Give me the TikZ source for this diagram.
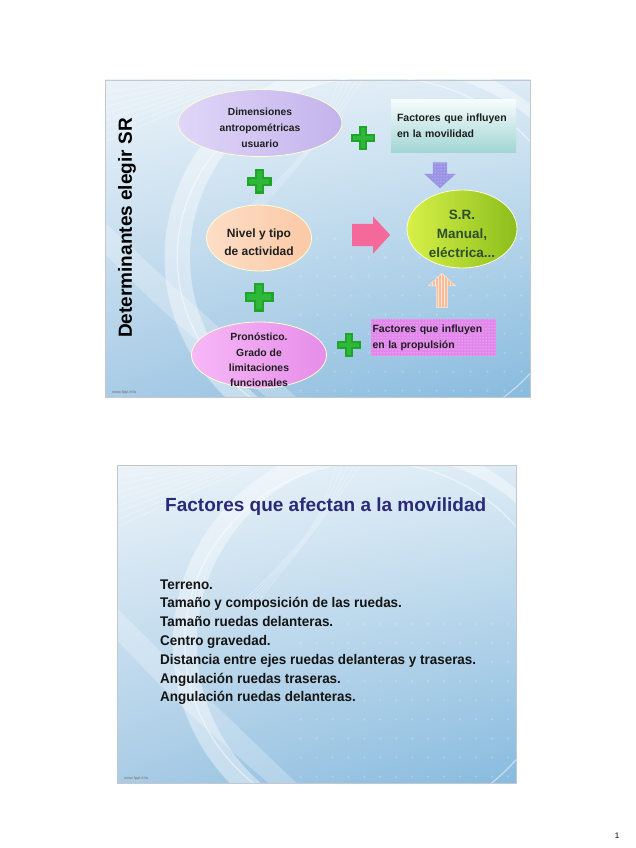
\documentclass[tikz,border=0pt]{standalone}
\usepackage{fontspec}
\setmainfont{Liberation Sans}
\newfontfamily\estrecha[FakeStretch=0.96]{Liberation Sans}
\usepackage{tikz}
\usetikzlibrary{shapes.geometric, shapes.arrows, positioning, patterns, calc, shadings}

\definecolor{fondoA}{HTML}{EBF3F9}
\definecolor{fondoB}{HTML}{DCEBF5}
\definecolor{fondoC}{HTML}{A9CCE6}
\definecolor{fondoD}{HTML}{88BBDE}
\definecolor{bordegris}{HTML}{C4C8CC}
\definecolor{tituloazul}{HTML}{2B2A78}
\definecolor{verdeoscuro}{HTML}{2E4E2A}
\definecolor{verdecruz}{HTML}{1FA52A}
\definecolor{verdeluz}{HTML}{2EB83A}
\definecolor{lavandaA}{HTML}{E0D6F8}
\definecolor{lavandaB}{HTML}{C3B3EC}
\definecolor{melocotonA}{HTML}{FDDEC6}
\definecolor{melocotonB}{HTML}{FBC9A6}
\definecolor{limaA}{HTML}{D8F048}
\definecolor{limaB}{HTML}{8BBE1C}
\definecolor{rosaA}{HTML}{F6B8F6}
\definecolor{rosaB}{HTML}{E68DE9}
\definecolor{tealA}{HTML}{F6FCFC}
\definecolor{tealB}{HTML}{A2D6D4}
\definecolor{magenta}{HTML}{E286EC}
\definecolor{flechrosa}{HTML}{F5699A}
\definecolor{flechlila}{HTML}{9A92E4}
\definecolor{flechnaranja}{HTML}{F8BC98}

\tikzset{
  elipse/.style={ellipse, inner sep=0pt, draw=white!85!yellow, line width=0.8pt},
  texto/.style={align=center, font=\bfseries, text=black!88, inner sep=0pt},
  caja/.style={rectangle, inner sep=0pt, align=left, font=\bfseries\fontsize{10.5}{15.6}\selectfont, text=black!88},
  flecha/.style={single arrow, inner xsep=0pt, single arrow tip angle=95},
  cuerpo/.style={font=\estrecha\bfseries\fontsize{14}{19}\selectfont, text=black!92, inner sep=0pt}
}

% cruz verde: centro x, centro y, tamano
\newcommand{\cruzverde}[3]{
    \fill[verdecruz] (#1-#3/2, #2-0.18*#3) rectangle (#1+#3/2, #2+0.18*#3);
    \fill[verdecruz] (#1-0.18*#3, #2-#3/2) rectangle (#1+0.18*#3, #2+#3/2);
    \fill[verdeluz] (#1-0.4*#3, #2-0.1*#3) rectangle (#1+0.4*#3, #2+0.1*#3);
    \fill[verdeluz] (#1-0.1*#3, #2-0.4*#3) rectangle (#1+0.1*#3, #2+0.4*#3);
}

% fondo de diapositiva: ancho, alto
\newcommand{\fondo}[2]{
    \begin{scope}
        \clip (0,0) rectangle (#1,#2);
        \shade[upper left=fondoA, upper right=fondoB, lower left=fondoC, lower right=fondoD] (0,0) rectangle (#1,#2);
        % barrido claro
        \fill[white, opacity=0.4, even odd rule]
            (0.66*#1,0.56*#2) ellipse [x radius=0.52*#1, y radius=0.64*#2]
            (0.68*#1,0.56*#2) ellipse [x radius=0.48*#1, y radius=0.59*#2];
        \draw[white, opacity=0.5, line width=1.2pt] (0.64*#1,0.56*#2) ellipse [x radius=0.47*#1, y radius=0.57*#2];
        \fill[white, opacity=0.25] (0,0.45*#2) .. controls (0.2*#1,0.7*#2) .. (0.45*#1,#2) -- (0.38*#1,#2) .. controls (0.15*#1,0.75*#2) .. (0,0.55*#2) -- cycle;
        % vetas
        \foreach \k in {0,...,7}
            \draw[white, opacity=0.45, line width=0.5pt] (0,0.04*#2+\k*7) -- (0.22*#1+\k*7,0);
        \foreach \k in {0,...,4}
            \draw[white, opacity=0.4, line width=0.5pt] (0.55*#1+\k*6,0) .. controls (0.5*#1,0.2*#2) .. (0.3*#1+\k*4,0.45*#2);
        % puntos de rejilla
        \foreach \u in {0.46,0.5,...,1.0}
            \foreach \v in {0.5,0.56,...,1.0}
                \fill[white, opacity=0.2] (\u*#1,\v*#2) circle [radius=1.3];
    \end{scope}
    \draw[bordegris, line width=0.6pt] (0,0) rectangle (#1,#2);
}

\begin{document}
\begin{tikzpicture}[x=1pt, y=-1pt]
    \useasboundingbox (0,0) rectangle (636,848);
    \fill[white] (0,0) rectangle (636,848);

    % ==========================================
    % 1. Diapositiva: Determinantes elegir SR
    % ==========================================
    \begin{scope}[shift={(105,80)}]
        \fondo{425}{317}
        \node[anchor=south west, font=\fontsize{4}{4}\selectfont, text=black!55, inner sep=1pt] (web1) at (6,316) {www.fppt.info};
    \end{scope}

    % Titulo vertical
    \node[rotate=90, font=\bfseries\fontsize{19}{19}\selectfont] (titulo1) at (127,228) {Determinantes elegir SR};

    % Elipses
    \node[elipse, left color=lavandaA, right color=lavandaB, minimum width=164pt, minimum height=67pt] (dimensiones) at (260,123) {};
    \node[texto, font=\bfseries\fontsize{10.3}{16}\selectfont] (dimensiones-txt) at ($(dimensiones)+(0,5)$) {Dimensiones\\antropométricas\\usuario};

    \node[elipse, left color=melocotonA, right color=melocotonB, minimum width=105pt, minimum height=66pt] (nivel) at (259,238) {};
    \node[texto, font=\bfseries\fontsize{12}{17.7}\selectfont] (nivel-txt) at ($(nivel)+(0,4)$) {Nivel y tipo\\de actividad};

    \node[elipse, left color=rosaA, right color=rosaB, minimum width=135pt, minimum height=66pt] (pronostico) at (259,355) {};
    \node[texto, font=\bfseries\fontsize{10.4}{15.3}\selectfont] (pronostico-txt) at ($(pronostico)+(0,5)$) {Pronóstico.\\Grado de\\limitaciones\\funcionales};

    \node[elipse, left color=limaA, right color=limaB, minimum width=110pt, minimum height=78pt] (sr) at (462,229) {};
    \node[texto, text=verdeoscuro, font=\bfseries\fontsize{13.5}{19}\selectfont] (sr-txt) at ($(sr)+(0,5)$) {S.R.\\Manual,\\eléctrica...};

    % Cajas de factores
    \node[caja, top color=tealA, bottom color=tealB, minimum width=125pt, minimum height=52pt, text width=113pt] (movilidad) at (453.5,126) {Factores que influyen\\en la movilidad};
    \node[caja, fill=magenta, postaction={pattern=dots, pattern color=white!80!magenta}, minimum width=125pt, minimum height=37pt, text width=122pt] (propulsion) at (433.5,337.5) {Factores que influyen\\en la propulsión};

    % Flechas
    \node[flecha, fill=flechrosa, inner ysep=11pt, single arrow head extend=7.5pt, minimum height=38pt] (flecha-derecha) at (366,235) {};
    \node[flecha, fill=flechlila, rotate=-90, inner ysep=7pt, single arrow head extend=8.5pt, minimum height=26pt, postaction={pattern=dots, pattern color=white!70!flechlila}] (flecha-abajo) at (440,172) {};
    \node[flecha, fill=flechnaranja, rotate=90, inner ysep=5.5pt, single arrow head extend=8pt, minimum height=34pt, draw=white!70!flechnaranja, postaction={pattern=vertical lines, pattern color=white!60!flechnaranja}] (flecha-arriba) at (442,293) {};

    % Cruces verdes
    \cruzverde{363}{138}{24}
    \cruzverde{259}{181}{25}
    \cruzverde{259}{297}{29}
    \cruzverde{349}{345}{24}

    % ==========================================
    % 2. Diapositiva: Factores que afectan a la movilidad
    % ==========================================
    \begin{scope}[shift={(117,465)}]
        \fondo{399}{318}
        \node[anchor=south west, font=\fontsize{4}{4}\selectfont, text=black!55, inner sep=1pt] (web2) at (6,317) {www.fppt.info};
    \end{scope}

    \node[anchor=base west, inner sep=0pt, text=tituloazul, font=\bfseries\fontsize{19}{19}\selectfont] (titulo2) at (165,511) {Factores que afectan a la movilidad};

    \foreach \i/\linea in {
        0/Terreno.,
        1/Tamaño y composición de las ruedas.,
        2/Tamaño ruedas delanteras.,
        3/Centro gravedad.,
        4/Distancia entre ejes ruedas delanteras y traseras.,
        5/Angulación ruedas traseras.,
        6/Angulación ruedas delanteras.
    } {
        \node[cuerpo, anchor=base west] (linea\i) at (160, 589+\i*18.8) {\linea};
    }

    % Numero de pagina
    \node[font=\fontsize{8}{8}\selectfont] (pagina) at (617,836) {1};
\end{tikzpicture}
\end{document}
